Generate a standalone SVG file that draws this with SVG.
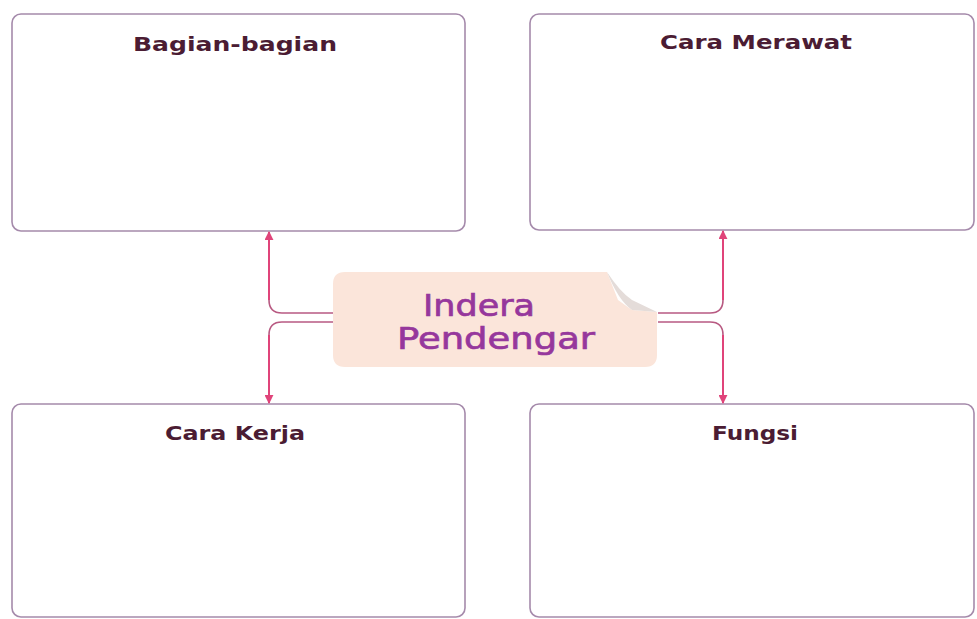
<svg xmlns="http://www.w3.org/2000/svg" width="977" height="619" viewBox="0 0 977 619">
<style>
.box{fill:#ffffff;stroke:#a58aab;stroke-width:1.6}
.title{font-family:"DejaVu Sans","Liberation Sans",sans-serif;font-weight:bold;font-size:20px;fill:#4b1c33;text-anchor:middle}
.ctext{font-family:"DejaVu Sans","Liberation Sans",sans-serif;font-size:31px;fill:#96379c;stroke:#96379c;stroke-width:0.7;text-anchor:middle}
.conn{fill:none;stroke:#e0447a;stroke-width:2}
.conn2{fill:none;stroke:#b85a82;stroke-width:1.6}
</style>
<defs>
<marker id="arr" viewBox="0 0 10 10" refX="9" refY="5" markerWidth="9" markerHeight="9" orient="auto-start-reverse" markerUnits="userSpaceOnUse">
<path d="M0,0 L10,5 L0,10 z" fill="#e0447a"/>
</marker>
</defs>
<rect width="977" height="619" fill="#ffffff"/>
<g id="node-bagian">
<rect class="box" x="12" y="14" width="453" height="217" rx="9"/>
<text class="title" x="235" y="51" textLength="204" lengthAdjust="spacingAndGlyphs">Bagian-bagian</text>
</g>
<g id="node-merawat">
<rect class="box" x="530" y="14" width="444" height="216" rx="9"/>
<text class="title" x="756" y="49" textLength="192" lengthAdjust="spacingAndGlyphs">Cara Merawat</text>
</g>
<g id="node-kerja">
<rect class="box" x="12" y="404" width="453" height="213" rx="9"/>
<text class="title" x="235" y="440" textLength="140" lengthAdjust="spacingAndGlyphs">Cara Kerja</text>
</g>
<g id="node-fungsi">
<rect class="box" x="530" y="404" width="444" height="213" rx="9"/>
<text class="title" x="755" y="440" textLength="86" lengthAdjust="spacingAndGlyphs">Fungsi</text>
</g>
<g id="connectors">
<path class="conn2" d="M333,313 L282,313 Q269,313 269,300 L269,240"/>
<path class="conn" d="M269,300 L269,232" marker-end="url(#arr)"/>
<path class="conn2" d="M333,322 L282,322 Q269,322 269,335 L269,395"/>
<path class="conn" d="M269,335 L269,403" marker-end="url(#arr)"/>
<path class="conn2" d="M658,313 L710,313 Q723,313 723,300 L723,240"/>
<path class="conn" d="M723,300 L723,231" marker-end="url(#arr)"/>
<path class="conn2" d="M658,322 L710,322 Q723,322 723,335 L723,395"/>
<path class="conn" d="M723,335 L723,403" marker-end="url(#arr)"/>
</g>
<g id="node-center">
<path d="M345,272 L607,272 L618,300 L632,310 L657,312 L657,355 Q657,367 645,367 L345,367 Q333,367 333,355 L333,284 Q333,272 345,272 Z" fill="#fbe5da"/>
<path d="M607,272 Q620,292 632,300 L657,312 L632,310 Q618,300 607,272 Z" fill="#e4dcd9"/>
<text class="ctext" x="479" y="316" textLength="112" lengthAdjust="spacingAndGlyphs">Indera</text>
<text class="ctext" x="496" y="349" textLength="198" lengthAdjust="spacingAndGlyphs">Pendengar</text>
</g>
</svg>
